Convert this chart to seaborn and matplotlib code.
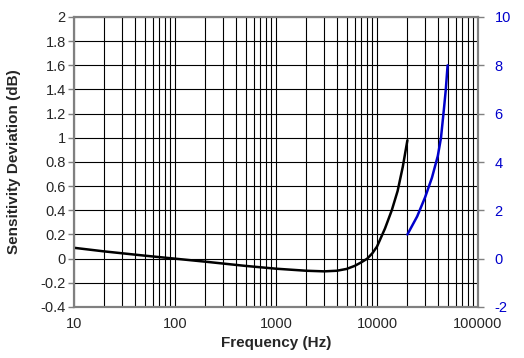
import matplotlib
matplotlib.use("Agg")
import matplotlib.pyplot as plt
import seaborn as sns
import pandas as pd
from matplotlib.ticker import FixedLocator, NullFormatter, LogLocator

sns.set_style("white")
plt.rcParams['font.family'] = ['Liberation Sans', 'DejaVu Sans']

# Left axis series (black)
freq_black = [10, 20, 50, 100, 200, 500, 1000, 2000, 3000, 4000, 5000, 6000, 7000,
              8000, 9000, 10000, 12000, 14000, 16000, 18000, 20000]
dev_black = [0.09, 0.06, 0.025, 0.0, -0.025, -0.06, -0.083, -0.10, -0.105, -0.10, -0.085,
             -0.06, -0.03, 0.0, 0.045, 0.10, 0.25, 0.40, 0.56, 0.76, 0.98]

# Right axis series (blue)
freq_blue = [20000, 25000, 30000, 35000, 40000, 43000, 46000, 48000, 50000]
dev_blue = [1.0, 1.75, 2.55, 3.35, 4.25, 5.0, 6.2, 7.0, 8.0]

left_ticks = [-0.4, -0.2, 0, 0.2, 0.4, 0.6, 0.8, 1, 1.2, 1.4, 1.6, 1.8, 2]
left_labels = ["-0.4", "-0.2", "0", "0.2", "0.4", "0.6", "0.8", "1", "1.2", "1.4", "1.6", "1.8", "2"]
right_ticks = [-2, 0, 2, 4, 6, 8, 10]
x_ticks = [10, 100, 1000, 10000, 100000]
x_labels = ["10", "100", "1000", "10000", "100000"]

df_b = pd.DataFrame({"f": freq_black, "d": dev_black})
df_u = pd.DataFrame({"f": freq_blue, "d": dev_blue})

fig = plt.figure(figsize=(5.24, 3.58), dpi=100)
ax = fig.add_axes([74/524, 1-307/358, (478-74)/524, (307-17)/358])
ax.set_xscale("log")
ax.set_xlim(10, 100000)
ax.set_ylim(-0.4, 2)

ax.set_yticks(left_ticks)
ax.set_yticklabels(left_labels)
ax.xaxis.set_major_locator(FixedLocator(x_ticks))
ax.set_xticklabels(x_labels)
ax.xaxis.set_minor_locator(LogLocator(base=10, subs=range(2, 10)))
ax.xaxis.set_minor_formatter(NullFormatter())
ax.grid(True, which="both", axis="x", color="black", lw=0.8)
ax.grid(True, which="major", axis="y", color="black", lw=0.8)
ax.tick_params(axis="x", which="minor", length=0)
ax.tick_params(axis="both", which="major", length=4, width=1, color="#808080",
               labelsize=10.5, direction="out")
ax.tick_params(axis="y", pad=2)
for s in ax.spines.values():
    s.set_color("#808080")
    s.set_linewidth(1.5)

sns.lineplot(data=df_b, x="f", y="d", ax=ax, color="black", lw=1.8)
ax.set_xlabel("Frequency (Hz)", fontsize=11, fontweight="bold", labelpad=3)
ax.set_ylabel("Sensitivity Deviation (dB)", fontsize=11, fontweight="bold")
ax.yaxis.set_label_coords(-(74-21)/404, 0.5)

ax2 = ax.twinx()
sns.lineplot(data=df_u, x="f", y="d", ax=ax2, color="#0000CC", lw=1.8)
ax2.set_ylim(-2, 10)
ax2.set_yticks(right_ticks)
ax2.set_yticklabels([str(t) for t in right_ticks])
ax2.set_ylabel("")
ax2.tick_params(axis="y", length=4, width=1, color="#808080", labelcolor="#0000CC",
                labelsize=10.5, direction="out", pad=8)
for s in ax2.spines.values():
    s.set_color("#808080")
    s.set_linewidth(1.5)
ax2.grid(False)
ax.set_xlim(10, 100000)

fig.savefig("out.png", dpi=100)
